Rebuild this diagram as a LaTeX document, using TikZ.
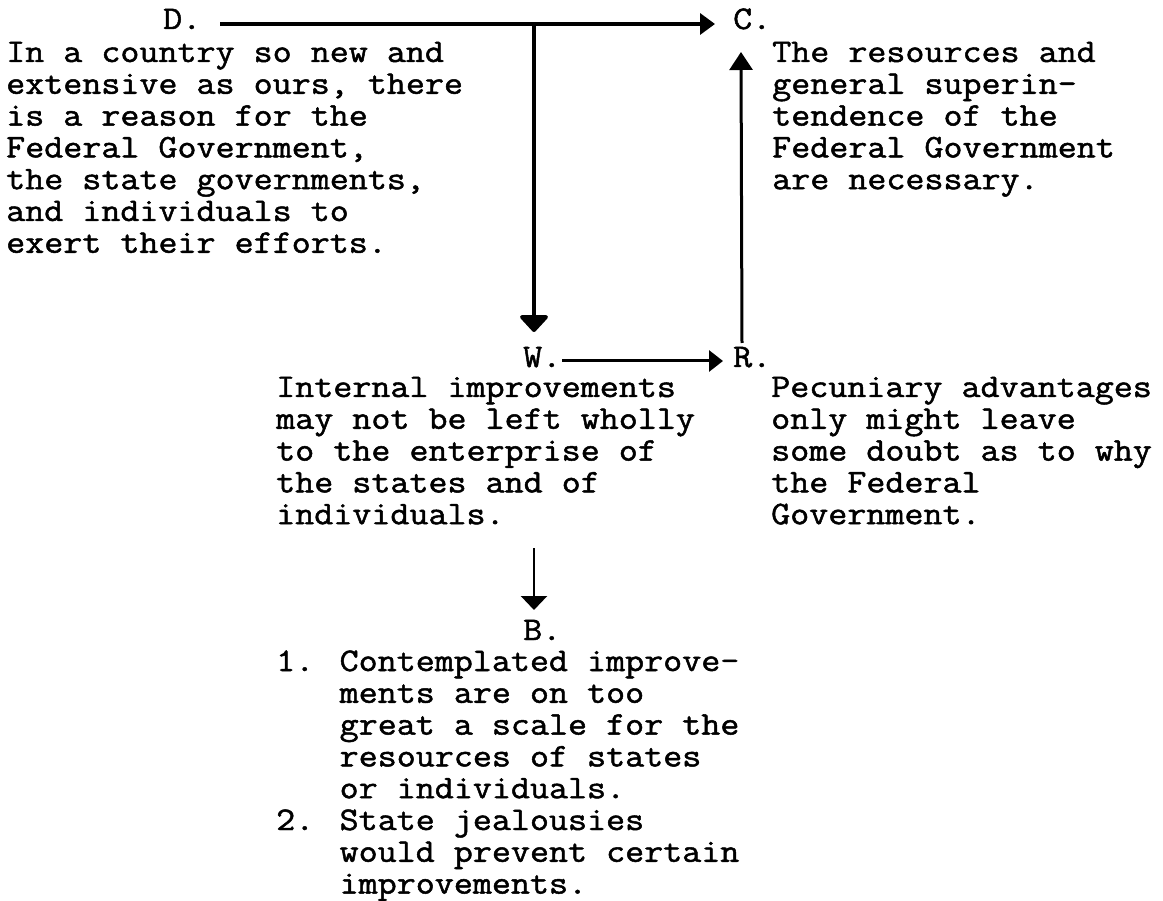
\documentclass[tikz,border=0pt]{standalone}
\usepackage{fontspec}
\setmainfont{Latin Modern Mono}[FakeStretch=1.12, FakeBold=1.5]
\usetikzlibrary{arrows.meta,calc}
\tikzset{
  lbl/.style={anchor=base west, inner sep=0pt, font=\fontsize{33}{32}\selectfont},
  para/.style={anchor=base west, inner sep=0pt, font=\fontsize{33}{31.8}\selectfont},
  conn/.style={line width=3pt, draw=black},
}
% block of typed lines whose baseline is that of the first line
\newcommand{\typedlines}[1]{\begin{tabular}[t]{@{}l@{}}#1\end{tabular}}
\begin{document}
\begin{tikzpicture}[x=1pt,y=-1pt]
\useasboundingbox (0,0) rectangle (1163,901);

% labels
\node[lbl] (D) at (163,29) {D.};
\node[lbl] (C) at (733,29) {C.};
\node[lbl] (W) at (523,367) {W.};
\node[lbl] (R) at (733,367) {R.};
\node[lbl] (B) at (523,640) {B.};

% texts
\node[para] (Dtext) at (6,62) {\typedlines{%
In a country so new and\\
extensive as ours, there\\
is a reason for the\\
Federal Government,\\
the state governments,\\
and individuals to\\
exert their efforts.}};

\node[para] (Ctext) at (772,62) {\typedlines{%
The resources and\\
general superin-\\
tendence of the\\
Federal Government\\
are necessary.}};

\node[para] (Wtext) at (276,397) {\typedlines{%
Internal improvements\\
may not be left wholly\\
to the enterprise of\\
the states and of\\
individuals.}};

\node[para] (Rtext) at (771,397) {\typedlines{%
Pecuniary advantages\\
only might leave\\
some doubt as to why\\
the Federal\\
Government.}};

\node[para] (Btext) at (276,671) {\typedlines{%
1. Contemplated improve-\\
\phantom{1. }ments are on too\\
\phantom{1. }great a scale for the\\
\phantom{1. }resources of states\\
\phantom{1. }or individuals.\\
2. State jealousies\\
\phantom{2. }would prevent certain\\
\phantom{2. }improvements.}};

% connectors
\coordinate (Dstart) at ($(D.base east)+(19,-5)$);
\draw[conn, line width=3.5pt, -{Triangle[length=15pt,width=21pt]}]
  (Dstart) -- ($(C.base west)+(-18,-5)$);
\coordinate (split) at ($(W.base west)+(11,-343)$);
\draw[conn, line width=4pt, -{Triangle[length=18pt,width=32pt,round]}]
  (split) -- ($(W.base west)+(11,-35)$);
\draw[conn, -{Triangle[length=14pt,width=21pt]}]
  ($(W.base east)+(1,-6)$) -- ($(R.base west)+(-10,-6)$);
\draw[conn, -{Triangle[length=18pt,width=23pt]}]
  ($(R.base west)+(9,-24)$) -- ($(C.base west)+(8,23)$);
\draw[conn, line width=2.5pt, -{Triangle[length=14pt,width=26pt]}]
  ($(B.base west)+(11,-92)$) -- ($(B.base west)+(11,-30)$);
\end{tikzpicture}
\end{document}
